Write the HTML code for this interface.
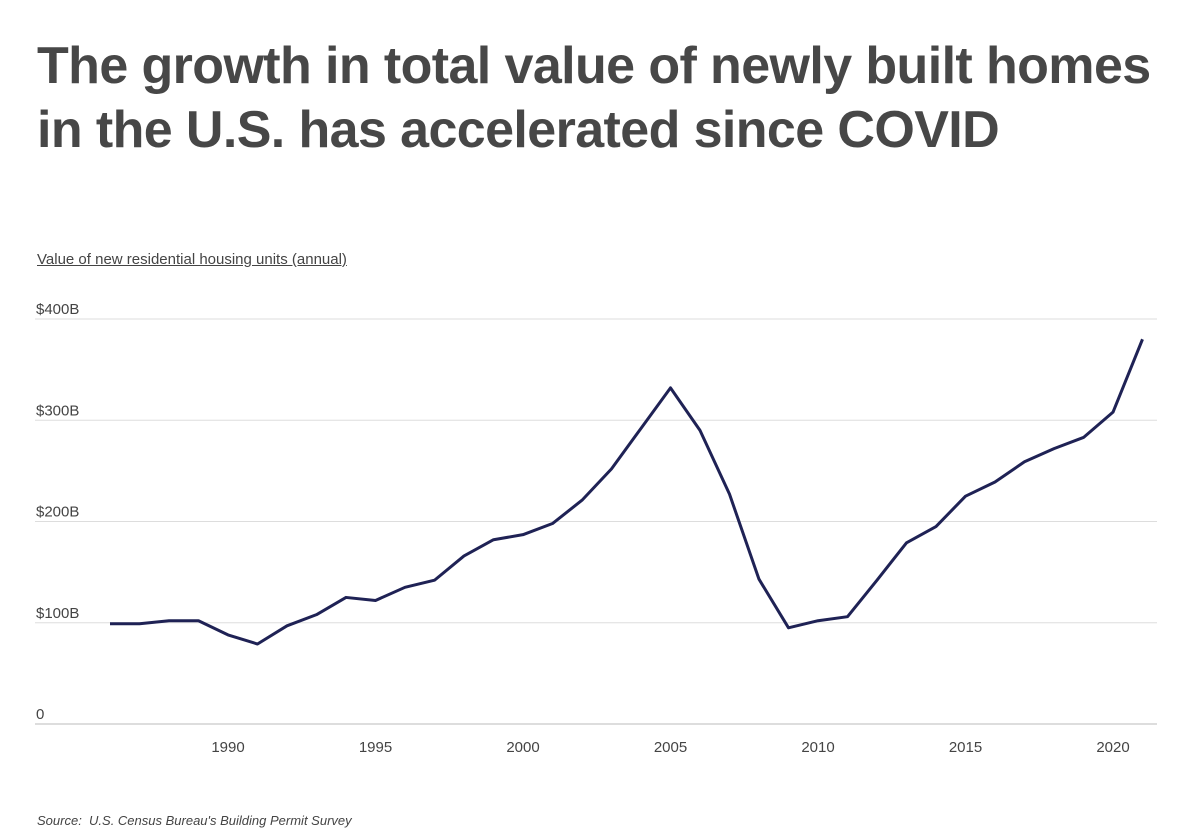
<!DOCTYPE html>
<html><head><meta charset="utf-8"><style>
body{margin:0;background:#fff;font-family:"Liberation Sans",sans-serif;}
#wrap{position:relative;width:1200px;height:838px;overflow:hidden;}
h1{position:absolute;left:37px;top:34px;margin:0;font-size:52px;line-height:64px;font-weight:bold;color:#474747;letter-spacing:-0.6px;}
#sub{position:absolute;left:37px;top:251px;font-size:15px;color:#444;text-decoration:underline;}
#src{position:absolute;left:37px;top:813px;font-size:13px;font-style:italic;color:#444;}
</style></head><body>
<div id="wrap">
<h1>The growth in total value of newly built homes<br>in the U.S. has accelerated since COVID</h1>
<div id="sub">Value of new residential housing units (annual)</div>
<svg id="chart" width="1200" height="838" style="position:absolute;left:0;top:0"></svg>
<div id="src">Source:&nbsp; U.S. Census Bureau's Building Permit Survey</div>
</div>
<script>
const years=[1986,1987,1988,1989,1990,1991,1992,1993,1994,1995,1996,1997,1998,1999,2000,2001,2002,2003,2004,2005,2006,2007,2008,2009,2010,2011,2012,2013,2014,2015,2016,2017,2018,2019,2020,2021];
const values=[99,99,102,102,88,79,97,108,125,122,135,142,166,182,187,198,221,252,292,332,290,227,143,95,102,106,142,179,195,225,239,259,272,283,308,380];
const yTicks=[0,100,200,300,400];
const yTickLabels=["0","$100B","$200B","$300B","$400B"];
const xTicks=[1990,1995,2000,2005,2010,2015,2020];
const NS="http://www.w3.org/2000/svg";
const svg=document.getElementById('chart');
function x(yr){return 228+(yr-1990)*(1113-228)/30;}
function y(v){return 724-v*(724-319)/400;}
yTicks.forEach((t,i)=>{
 const l=document.createElementNS(NS,'line');
 
 
 l.setAttribute('x1',35);l.setAttribute('x2',1157);
 l.setAttribute('y1',y(t));l.setAttribute('y2',y(t));
 l.setAttribute('stroke',t===0?'#bbb':'#ddd');l.setAttribute('stroke-width',1);
 svg.appendChild(l);
 const tx=document.createElementNS(NS,'text');
 
 
 tx.setAttribute('x',36);tx.setAttribute('y',y(t)-5);
 tx.setAttribute('font-size',15);tx.setAttribute('fill','#444');
 tx.textContent=yTickLabels[i];
 svg.appendChild(tx);
});
xTicks.forEach(t=>{
 const tx=document.createElementNS(NS,'text');
 
 
 tx.setAttribute('x',x(t));tx.setAttribute('y',752);
 tx.setAttribute('text-anchor','middle');
 tx.setAttribute('font-size',15);tx.setAttribute('fill','#444');
 tx.textContent=t;
 svg.appendChild(tx);
});
const p=document.createElementNS(NS,'polyline');


p.setAttribute('points',years.map((yr,i)=>x(yr)+','+y(values[i])).join(' '));
p.setAttribute('fill','none');p.setAttribute('stroke','#1f2255');p.setAttribute('stroke-width',3);
p.setAttribute('stroke-linejoin','round');
svg.appendChild(p);
</script>
</body></html>
